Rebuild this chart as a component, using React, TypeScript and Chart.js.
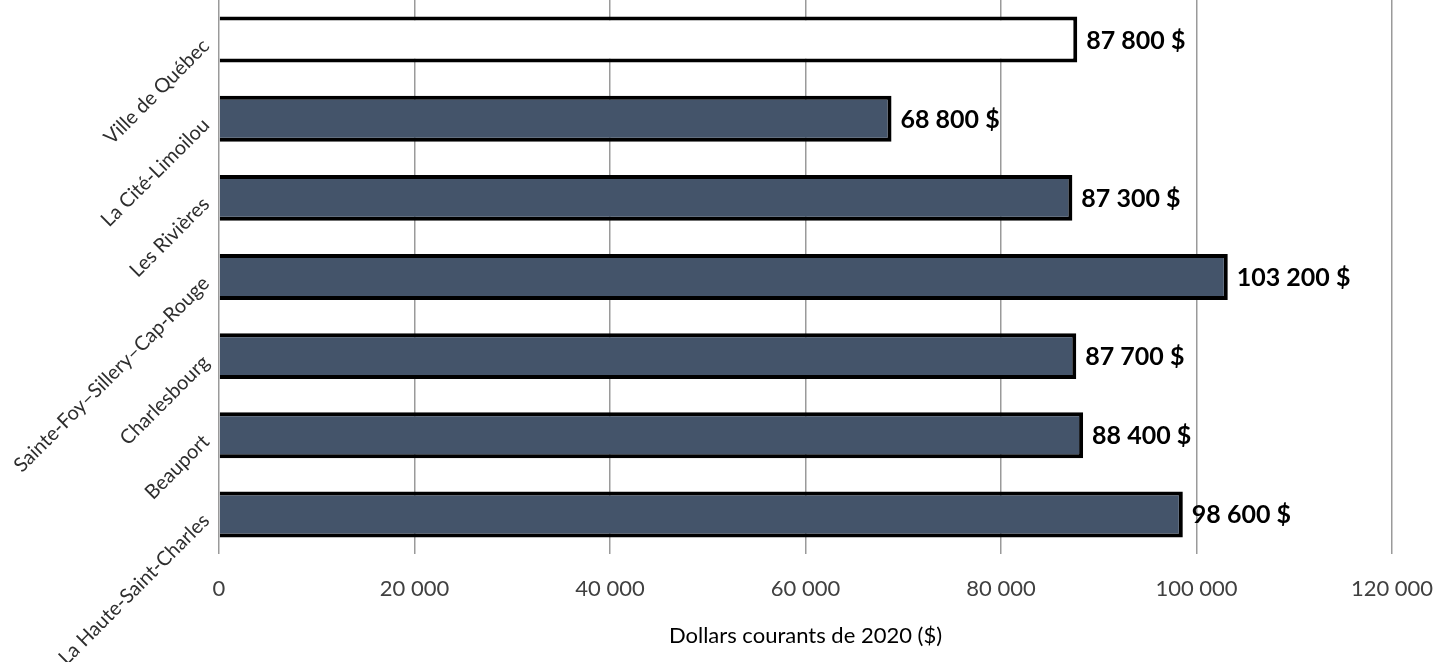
import React, { useEffect, useRef } from "react";
import { Chart, registerables } from "chart.js";

Chart.register(...registerables);

const categories = [
  "Ville de Québec",
  "La Cité-Limoilou",
  "Les Rivières",
  "Sainte-Foy–Sillery–Cap-Rouge",
  "Charlesbourg",
  "Beauport",
  "La Haute-Saint-Charles",
];
const values = [87800, 68800, 87300, 103200, 87700, 88400, 98600];
const barColors = ["#ffffff", "#44546A", "#44546A", "#44546A", "#44546A", "#44546A", "#44546A"];
const axisTitle = "Dollars courants de 2020 ($)";
const xMin = 0;
const xMax = 120000;
const xStep = 20000;

const FONT = "Lato, 'Noto Sans', sans-serif";

function fmt(n: number): string {
  return String(Math.round(n)).replace(/\B(?=(\d{3})+(?!\d))/g, " ");
}

const labelPlugin = {
  id: "barLabels",
  afterDatasetsDraw(chart: any) {
    const ctx = chart.ctx;
    const meta = chart.getDatasetMeta(0);
    ctx.save();
    ctx.font = `bold 25px ${FONT}`;
    ctx.fillStyle = "#000";
    ctx.textAlign = "left";
    ctx.textBaseline = "middle";
    meta.data.forEach((bar: any, i: number) => {
      ctx.fillText(fmt(values[i]) + " $", bar.x + 9, bar.y + 1);
    });
    ctx.restore();
  },
};

export default function App() {
  const ref = useRef<HTMLCanvasElement | null>(null);
  useEffect(() => {
    if (!ref.current) return;
    const chart = new Chart(ref.current, {
      type: "bar",
      data: {
        labels: categories,
        datasets: [
          {
            data: values,
            backgroundColor: barColors,
            borderColor: "#000",
            borderWidth: 4,
            borderSkipped: "start",
            barPercentage: 0.58,
            categoryPercentage: 1,
          },
        ],
      },
      options: {
        indexAxis: "y",
        responsive: false,
        animation: false,
        layout: { padding: { top: 0, right: 41, left: 0, bottom: 0 } },
        plugins: {
          legend: { display: false },
          tooltip: { enabled: false },
        },
        scales: {
          x: {
            min: xMin,
            max: xMax,
            afterBuildTicks: (s: any) => {
              const t = [];
              for (let v = xMin; v <= xMax; v += xStep) t.push({ value: v });
              s.ticks = t;
            },
            afterFit: (s: any) => {
              s.height = 108;
              s.paddingLeft = 0;
              s.paddingRight = 0;
            },
            grid: { color: "#9a9a9a", lineWidth: 1.5, drawTicks: false },
            border: { display: false },
            ticks: {
              padding: 22,
              color: "#404040",
              font: { family: FONT, size: 22 },
              callback: (v: any) => fmt(Number(v)),
            },
            title: {
              display: true,
              text: axisTitle,
              color: "#000",
              font: { family: FONT, size: 22 },
              padding: { top: 0, bottom: 13 },
            },
          },
          y: {
            afterFit: (s: any) => {
              s.width = 219;
              s.paddingTop = 0;
              s.paddingBottom = 0;
            },
            grid: { display: false, drawTicks: false },
            border: { display: false },
            ticks: {
              autoSkip: false,
              minRotation: 45,
              maxRotation: 45,
              padding: 13,
              labelOffset: 3,
              color: "#2e2e2e",
              font: { family: FONT, size: 20 },
            },
          },
        },
      },
      plugins: [labelPlugin],
    } as any);
    return () => chart.destroy();
  }, []);
  return (
    <div style={{ position: "fixed", left: 0, top: 0, width: 1433, height: 662, background: "#fff" }}>
      <canvas ref={ref} width={1433} height={662} />
    </div>
  );
}
